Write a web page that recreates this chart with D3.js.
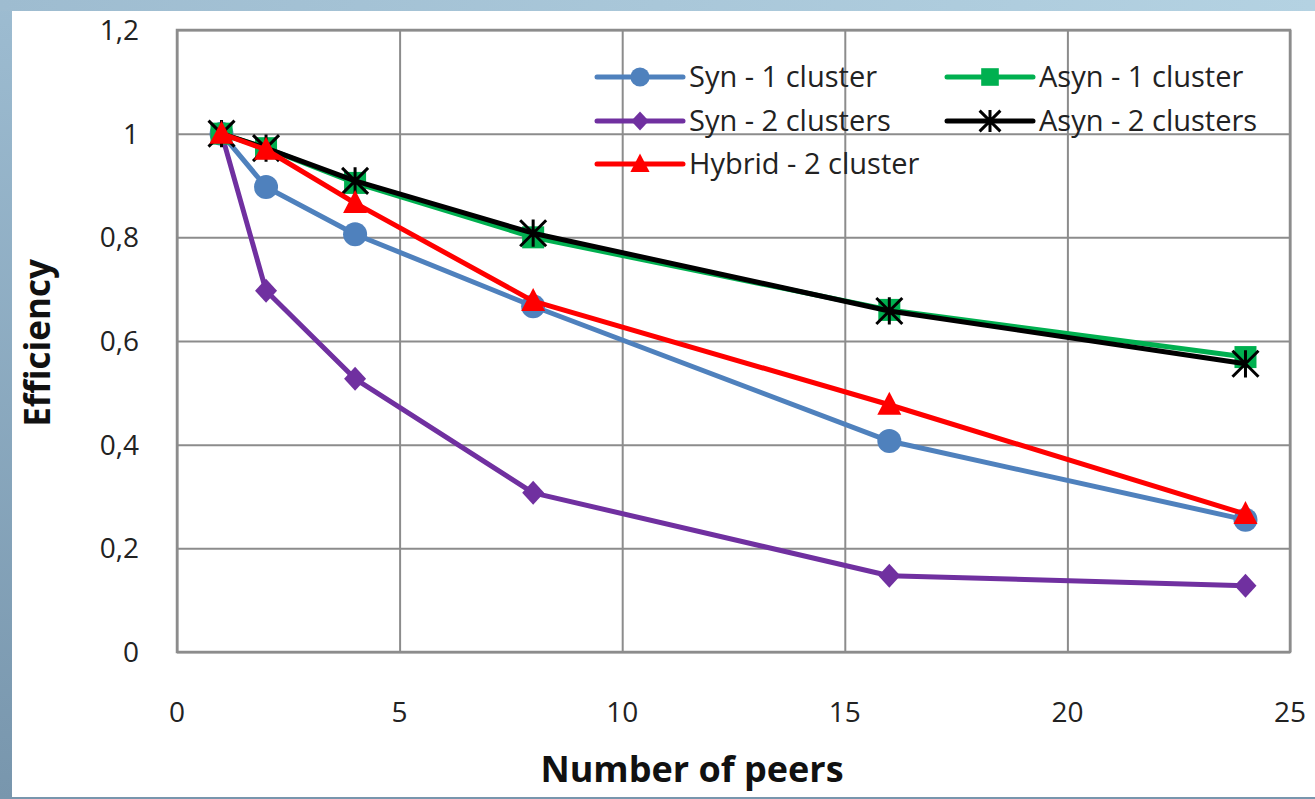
<!DOCTYPE html>
<html><head><meta charset="utf-8">
<script src="https://cdn.jsdelivr.net/npm/d3@7"></script>
<style>html,body{margin:0;padding:0;}svg{display:block;}</style>
</head><body>
<svg id="c" width="1315" height="799"></svg>
<script>
const peers = [1, 2, 4, 8, 16, 24];
const syn1 = [1, 0.897, 0.806, 0.667, 0.407, 0.255];
const syn2 = [1, 0.697, 0.527, 0.307, 0.147, 0.128];
const asyn1 = [1, 0.972, 0.905, 0.80, 0.66, 0.569];
const asyn2 = [1, 0.972, 0.909, 0.808, 0.658, 0.556];
const hybrid = [1, 0.969, 0.866, 0.677, 0.477, 0.266];
const seriesNames = ["Syn - 1 cluster", "Syn - 2 clusters", "Asyn - 1 cluster", "Asyn - 2 clusters", "Hybrid - 2 cluster"];
const xTicks = [0, 5, 10, 15, 20, 25];
const yTicks = [0, 0.2, 0.4, 0.6, 0.8, 1, 1.2];

const series = [
  {name: seriesNames[0], values: syn1, color: "#4f81bd", marker: "circle"},
  {name: seriesNames[1], values: syn2, color: "#7030a0", marker: "diamond"},
  {name: seriesNames[2], values: asyn1, color: "#00b050", marker: "square"},
  {name: seriesNames[3], values: asyn2, color: "#000000", marker: "star"},
  {name: seriesNames[4], values: hybrid, color: "#ff0000", marker: "triangle"}
];

const svg = d3.select("#c");
const defs = svg.append("defs");
const gt = defs.append("linearGradient").attr("id","gtop").attr("x1",0).attr("x2",1).attr("y1",0).attr("y2",0);
gt.append("stop").attr("offset","0%").attr("stop-color","#9ebcd0");
gt.append("stop").attr("offset","100%").attr("stop-color","#b4d2e2");
const gl = defs.append("linearGradient").attr("id","gleft").attr("x1",0).attr("x2",0).attr("y1",0).attr("y2",1);
gl.append("stop").attr("offset","0%").attr("stop-color","#9dbcd1");
gl.append("stop").attr("offset","100%").attr("stop-color","#7896ad");
svg.append("rect").attr("width",1315).attr("height",799).attr("fill","url(#gleft)");
svg.append("rect").attr("x",0).attr("y",0).attr("width",1315).attr("height",11).attr("fill","url(#gtop)");
svg.append("rect").attr("x",12).attr("y",11).attr("width",1303).attr("height",786).attr("fill","#ffffff");

const L = 177, R = 1290, T = 30, B = 652;
const x = d3.scaleLinear().domain([0,25]).range([L,R]);
const y = d3.scaleLinear().domain([0,1.2]).range([B,T]);
const font = "'Open Sans', sans-serif";

// grid
const gridColor = "#8c8c8c";
const gx = svg.append("g").attr("transform",`translate(0,${B})`)
  .call(d3.axisBottom(x).tickValues(xTicks).tickSize(-(B-T)).tickFormat(""));
const gy = svg.append("g").attr("transform",`translate(${L},0)`)
  .call(d3.axisLeft(y).tickValues(yTicks).tickSize(-(R-L)).tickFormat(""));
[gx,gy].forEach(g=>{g.select(".domain").remove();g.selectAll("line").attr("stroke",gridColor).attr("stroke-width",2);});
svg.append("rect").attr("x",L).attr("y",T).attr("width",R-L).attr("height",B-T)
  .attr("fill","none").attr("stroke",gridColor).attr("stroke-width",2.5);

// tick labels
const fmt = d => String(+d.toFixed(1)).replace(".", ",");
svg.append("g").selectAll("text").data(yTicks).join("text")
  .attr("x",139).attr("y",d=>y(d)).attr("dy","0.36em").attr("text-anchor","end")
  .attr("font-family",font).attr("font-size",28).attr("fill","#222").text(fmt);
svg.append("g").selectAll("text").data(xTicks).join("text")
  .attr("x",d=>x(d)).attr("y",712).attr("dy","0.36em").attr("text-anchor","middle")
  .attr("font-family",font).attr("font-size",28).attr("fill","#222").text(d=>d);

// titles
svg.append("text").attr("x",692).attr("y",782).attr("text-anchor","middle")
  .attr("font-family",font).attr("font-weight","bold").attr("font-size",36).attr("fill","#111").text("Number of peers");
svg.append("text").attr("transform","translate(50,343) rotate(-90)").attr("text-anchor","middle")
  .attr("font-family",font).attr("font-weight","bold").attr("font-size",35).attr("fill","#111").text("Efficiency");

// markers
function drawMarker(g, type, cx, cy, color, k) {
  k = k || 1;
  if (type === "circle") g.append("circle").attr("cx",cx).attr("cy",cy).attr("r",12*k).attr("fill",color);
  else if (type === "diamond") g.append("path").attr("d",`M${cx},${cy-12*k}L${cx+11*k},${cy}L${cx},${cy+12*k}L${cx-11*k},${cy}Z`).attr("fill",color);
  else if (type === "square") g.append("rect").attr("x",cx-11*k).attr("y",cy-11*k).attr("width",22*k).attr("height",22*k).attr("fill",color);
  else if (type === "triangle") g.append("path").attr("d",`M${cx},${cy-13*k}L${cx+12*k},${cy+10*k}L${cx-12*k},${cy+10*k}Z`).attr("fill",color);
  else if (type === "star") {
    const s = 13*k;
    g.append("path").attr("d",`M${cx-s},${cy-s}L${cx+s},${cy+s}M${cx-s},${cy+s}L${cx+s},${cy-s}M${cx},${cy-s*1.05}L${cx},${cy+s*1.05}`)
      .attr("stroke",color).attr("stroke-width",3).attr("fill","none");
  }
}

const line = d3.line().x(d=>x(d[0])).y(d=>y(d[1]));
series.forEach(s=>{
  const g = svg.append("g");
  const pts = peers.map((p,i)=>[p,s.values[i]]);
  g.append("path").attr("d",line(pts)).attr("fill","none").attr("stroke",s.color)
    .attr("stroke-width",5).attr("stroke-linejoin","round");
  pts.forEach(p=>drawMarker(g, s.marker, x(p[0]), y(p[1]), s.color));
});

// legend
const legPos = [[597,77],[597,121],[947,77],[947,121],[597,164]];
series.forEach((s,i)=>{
  const [lx,ly] = legPos[i];
  const w = 86;
  const g = svg.append("g");
  g.append("line").attr("x1",lx).attr("x2",lx+w).attr("y1",ly).attr("y2",ly)
    .attr("stroke",s.color).attr("stroke-width",5).attr("stroke-linecap","round");
  drawMarker(g, s.marker, lx+w/2, ly, s.color, 0.8);
  g.append("text").attr("x",lx+w+6).attr("y",ly).attr("dy","0.36em")
    .attr("font-family",font).attr("font-size",29).attr("fill","#222").text(s.name);
});
</script>
</body></html>
